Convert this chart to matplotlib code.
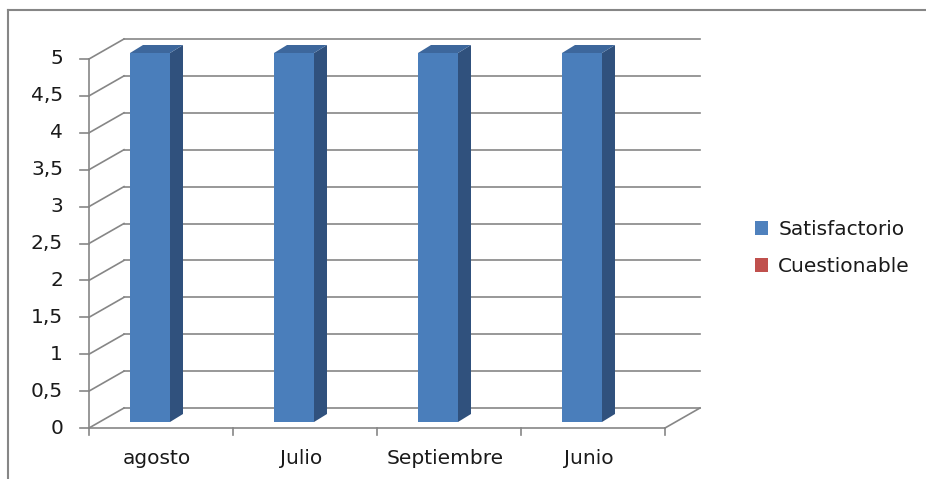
import matplotlib.pyplot as plt
from matplotlib.patches import Polygon, Rectangle
from matplotlib.lines import Line2D

categories = ['agosto', 'Julio', 'Septiembre', 'Junio']
satisfactorio = [5, 5, 5, 5]
cuestionable = [0, 0, 0, 0]
series_names = ['Satisfactorio', 'Cuestionable']
yticks = [0, 0.5, 1, 1.5, 2, 2.5, 3, 3.5, 4, 4.5, 5]
ytick_labels = ['0', '0,5', '1', '1,5', '2', '2,5', '3', '3,5', '4', '4,5', '5']

W, H = 926, 479
fig = plt.figure(figsize=(W / 100, H / 100), dpi=100)

# axes covering the front plane plus the 3D back wall
px_x = 144.0   # pixels per category
px_y = 73.8    # pixels per unit
wall_dx, wall_dy = 35 / px_x, 20 / px_y
ax = fig.add_axes([89 / W, 1 - 428 / H, (700 - 89) / W, (428 - 39) / H])
ax.set_xlim(0, len(categories) + wall_dx)
ax.set_ylim(0, 5 + wall_dy)
ax.axis('off')

grid_c = '#868686'
txt_c = '#1a1a1a'
fs = 14.5
n = len(categories)
# back wall gridlines and side-wall diagonals
for v in yticks:
    ax.plot([wall_dx, n + wall_dx], [v + wall_dy, v + wall_dy], color=grid_c, lw=1.2, clip_on=False)
    ax.plot([0, wall_dx], [v, v + wall_dy], color=grid_c, lw=1.2, clip_on=False)
# floor
ax.plot([0, n], [0, 0], color=grid_c, lw=1.2, clip_on=False)
ax.plot([n, n + wall_dx], [0, wall_dy], color=grid_c, lw=1.2, clip_on=False)
# front y axis with ticks
ax.plot([0, 0], [0, 5], color=grid_c, lw=1.2, clip_on=False)
tick_len = 9 / px_x
for v, lab in zip(yticks, ytick_labels):
    ax.plot([-tick_len, 0], [v, v], color=grid_c, lw=1.2, clip_on=False)
    ax.text(-26 / px_x, v, lab, ha='right', va='center', fontsize=fs, color=txt_c)
# x ticks
for i in range(n + 1):
    ax.plot([i, i], [0, -7 / px_y], color=grid_c, lw=1.2, clip_on=False)

# bars (front face placed at mid depth)
bar_w = 40 / px_x
bar_off = 41 / px_x
base = 6 / px_y
side_dx, side_dy = 13 / px_x, 8 / px_y
front_c, side_c, top_c = '#4a7ebb', '#30517d', '#3d679c'
for i, val in enumerate(satisfactorio):
    x0 = i + bar_off
    x1 = x0 + bar_w
    y0 = base
    y1 = val + base
    ax.add_patch(Polygon([(x1, y0), (x1 + side_dx, y0 + side_dy), (x1 + side_dx, y1 + side_dy), (x1, y1)],
                         closed=True, facecolor=side_c, edgecolor='none', zorder=3))
    ax.add_patch(Polygon([(x0, y1), (x1, y1), (x1 + side_dx, y1 + side_dy), (x0 + side_dx, y1 + side_dy)],
                         closed=True, facecolor=top_c, edgecolor='none', zorder=3))
    ax.add_patch(Rectangle((x0, y0), bar_w, val, facecolor=front_c, edgecolor='none', zorder=4))
    ax.text(i + 0.5 - 4 / px_x, -30 / px_y, categories[i], ha='center', va='center',
            fontsize=fs, color=txt_c, clip_on=False)

# legend
handles = [Rectangle((0, 0), 1, 1, facecolor='#4f81bd'), Rectangle((0, 0), 1, 1, facecolor='#c0504d')]
fig.legend(handles, series_names, loc='center left', bbox_to_anchor=(737 / W, 1 - 248 / H),
           frameon=False, fontsize=fs, handlelength=0.65, handleheight=0.65, handletextpad=0.5,
           labelspacing=0.9, labelcolor=txt_c)

# outer chart border (left and top)
fig.add_artist(Line2D([8 / W, 8 / W], [0, 1 - 10 / H], color='#868686', lw=1.5))
fig.add_artist(Line2D([8 / W, 926 / W], [1 - 10 / H, 1 - 10 / H], color='#868686', lw=1.5))

fig.savefig('out.png', dpi=100)
